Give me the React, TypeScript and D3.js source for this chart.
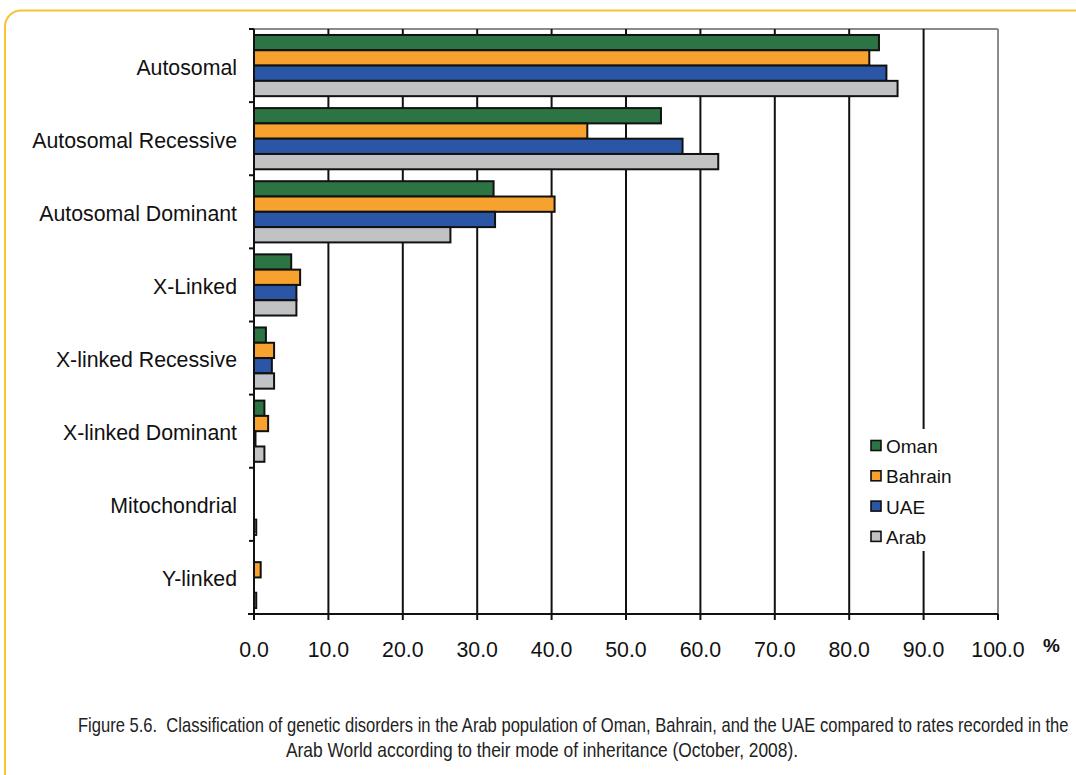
import React, { useLayoutEffect, useRef, useState } from "react";
import * as d3 from "d3";

const categories = [
  "Autosomal",
  "Autosomal Recessive",
  "Autosomal Dominant",
  "X-Linked",
  "X-linked Recessive",
  "X-linked Dominant",
  "Mitochondrial",
  "Y-linked",
];

const seriesNames = ["Oman", "Bahrain", "UAE", "Arab"];
const seriesColors = ["#2d7444", "#f7a22f", "#2b56a5", "#c1c2c4"];

const omanValues = [84.0, 54.7, 32.2, 5.0, 1.6, 1.4, 0, 0];
const bahrainValues = [82.7, 44.8, 40.4, 6.2, 2.7, 1.9, 0, 0.9];
const uaeValues = [85.0, 57.6, 32.4, 5.7, 2.4, 0.2, 0, 0];
const arabValues = [86.5, 62.4, 26.4, 5.7, 2.7, 1.4, 0.3, 0.3];

const xTicks = [0, 10, 20, 30, 40, 50, 60, 70, 80, 90, 100];

const captionLine1 =
  "Figure 5.6.  Classification of genetic disorders in the Arab population of Oman, Bahrain, and the UAE compared to rates recorded in the";
const captionLine2 =
  "Arab World according to their mode of inheritance (October, 2008).";

const W = 1076;
const H = 775;
const plot = { left: 254, right: 998, top: 29, bottom: 614 };
const font = "'Liberation Sans', Arial, sans-serif";

// A caption line set in a horizontally condensed face: the natural width is
// measured once and the line is squeezed to the wanted width.
function CondensedLine({
  text,
  x,
  y,
  width,
}: {
  text: string;
  x: number;
  y: number;
  width: number;
}) {
  const ref = useRef<SVGTextElement>(null);
  const [k, setK] = useState(0.86);
  useLayoutEffect(() => {
    if (ref.current) {
      const natural = ref.current.getComputedTextLength();
      if (natural > 0) setK(width / natural);
    }
  }, [text, width]);
  return (
    <g transform={`translate(${x},${y}) scale(${k},1)`}>
      <text ref={ref} x={0} y={0} fontFamily={font} fontSize={20} fill="#222" style={{ whiteSpace: "pre" }}>
        {text}
      </text>
    </g>
  );
}

export default function App() {
  const values = [omanValues, bahrainValues, uaeValues, arabValues];

  const x = d3.scaleLinear().domain([0, 100]).range([plot.left, plot.right]);
  const y = d3
    .scaleBand<string>()
    .domain(categories)
    .range([plot.top, plot.bottom])
    .paddingInner(0)
    .paddingOuter(0);
  const ySub = d3
    .scaleBand<string>()
    .domain(seriesNames)
    .range([0, y.bandwidth()])
    .paddingInner(0)
    .paddingOuter(0.39);

  const legend = { x: 871, y0: 446, dy: 30.3 };

  return (
    <svg
      width={W}
      height={H}
      viewBox={`0 0 ${W} ${H}`}
      style={{ position: "absolute", left: 0, top: 0, background: "#fff" }}
    >
      {/* rounded frame */}
      <rect
        x={5}
        y={10.5}
        width={W + 40}
        height={H + 40}
        rx={16}
        ry={16}
        fill="#fff"
        stroke="#f9c237"
        strokeWidth={2}
      />

      {/* plot frame: top and right in gray */}
      <line x1={plot.left} x2={plot.right} y1={plot.top} y2={plot.top} stroke="#8a8a8a" strokeWidth={2} />
      <line x1={plot.right} x2={plot.right} y1={plot.top} y2={plot.bottom} stroke="#8a8a8a" strokeWidth={2} />

      {/* vertical grid lines */}
      {xTicks
        .filter((t) => t > 0 && t < 100)
        .map((t) => (
          <line
            key={`g${t}`}
            x1={x(t)}
            x2={x(t)}
            y1={plot.top}
            y2={plot.bottom}
            stroke="#111"
            strokeWidth={2}
          />
        ))}

      {/* bars */}
      {categories.map((c, ci) =>
        seriesNames.map((s, si) => {
          const v = values[si][ci];
          if (v <= 0) return null;
          return (
            <rect
              key={`${c}-${s}`}
              x={x(0)}
              y={(y(c) as number) + (ySub(s) as number)}
              width={x(v) - x(0)}
              height={ySub.bandwidth()}
              fill={seriesColors[si]}
              stroke="#111"
              strokeWidth={2}
            />
          );
        })
      )}

      {/* legend */}
      <rect x={862} y={429} width={96} height={122} fill="#fff" />
      {seriesNames.map((s, i) => {
        const cy = legend.y0 + i * legend.dy;
        return (
          <g key={`l${s}`}>
            <rect
              x={legend.x}
              y={cy - 5.5}
              width={10}
              height={10}
              fill={seriesColors[i]}
              stroke="#111"
              strokeWidth={1.6}
            />
            <text x={legend.x + 15} y={cy + 7} fontFamily={font} fontSize={19} fill="#111">
              {s}
            </text>
          </g>
        );
      })}

      {/* category axis */}
      <line x1={plot.left} x2={plot.left} y1={plot.top} y2={plot.bottom} stroke="#111" strokeWidth={2} />
      {categories.map((c) => (
        <line
          key={`t${c}`}
          x1={plot.left - 5}
          x2={plot.left}
          y1={y(c) as number}
          y2={y(c) as number}
          stroke="#111"
          strokeWidth={2}
        />
      ))}
      {categories.map((c) => (
        <text
          key={`c${c}`}
          x={237}
          y={(y(c) as number) + y.bandwidth() / 2 + 9}
          textAnchor="end"
          fontFamily={font}
          fontSize={21.3}
          fill="#111"
        >
          {c}
        </text>
      ))}

      {/* value axis */}
      <line x1={plot.left - 6} x2={plot.right} y1={plot.bottom} y2={plot.bottom} stroke="#111" strokeWidth={2} />
      {xTicks.map((t) => (
        <line
          key={`xt${t}`}
          x1={x(t)}
          x2={x(t)}
          y1={plot.bottom}
          y2={plot.bottom + 6}
          stroke="#111"
          strokeWidth={2}
        />
      ))}
      {xTicks.map((t) => (
        <text
          key={`xl${t}`}
          x={x(t)}
          y={657}
          textAnchor="middle"
          fontFamily={font}
          fontSize={21.3}
          fill="#111"
        >
          {d3.format(".1f")(t)}
        </text>
      ))}
      <text x={1043} y={652} fontFamily={font} fontSize={19} fontWeight="bold" fill="#111">
        %
      </text>

      {/* caption */}
      <CondensedLine text={captionLine1} x={78} y={732} width={990} />
      <CondensedLine text={captionLine2} x={286} y={757} width={512} />
    </svg>
  );
}
